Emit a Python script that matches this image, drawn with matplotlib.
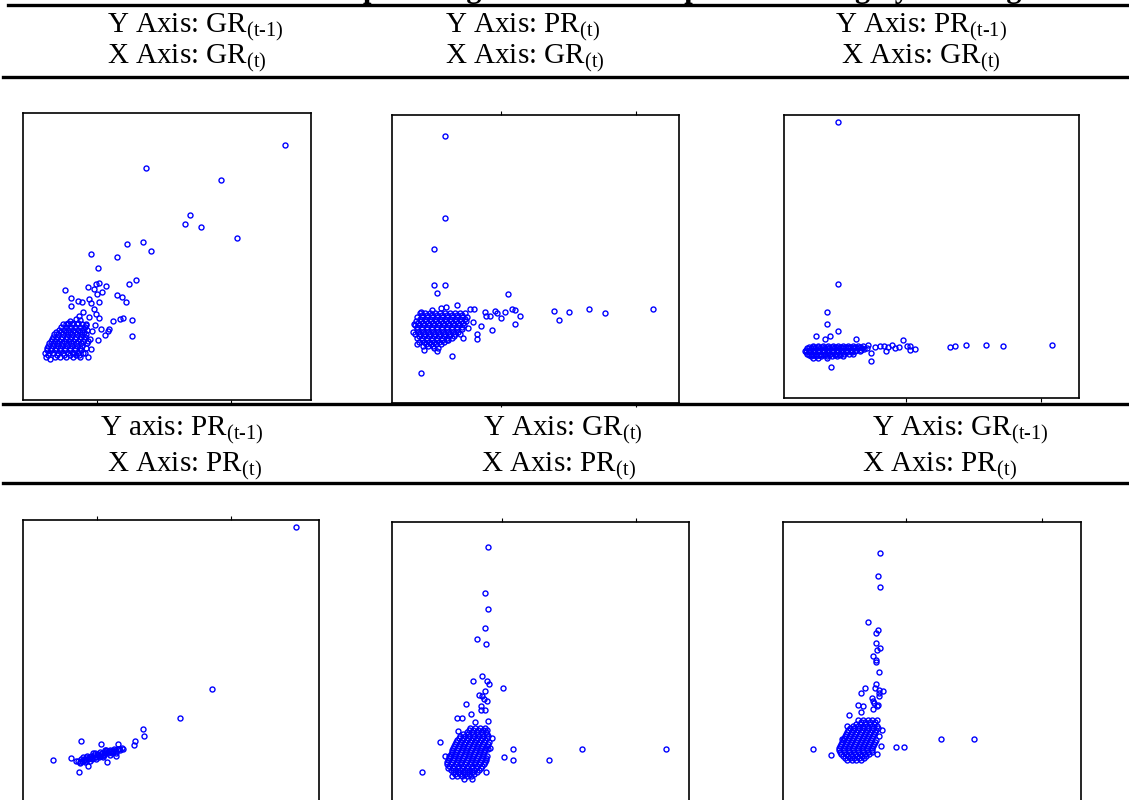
import matplotlib.pyplot as plt
from matplotlib.lines import Line2D

plt.rcParams['font.family'] = ['Liberation Serif', 'DejaVu Serif']
plt.rcParams['mathtext.fontset'] = 'custom'
plt.rcParams['mathtext.rm'] = 'Liberation Serif'
plt.rcParams['mathtext.it'] = 'Liberation Serif:italic'
plt.rcParams['mathtext.bf'] = 'Liberation Serif:bold'

W, H = 1129, 800

title = 'Table 2: Scatter plots of growth rate and profit ranking by ranking'

# header text of each panel: (y label, y subscript, x label, x subscript)
labels_top = [('Y Axis: GR', '(t-1)', 'X Axis: GR', '(t)'),
              ('Y Axis: PR', '(t)', 'X Axis: GR', '(t)'),
              ('Y Axis: PR', '(t-1)', 'X Axis: GR', '(t)')]
labels_bottom = [('Y axis: PR', '(t-1)', 'X Axis: PR', '(t)'),
                 ('Y Axis: GR', '(t)', 'X Axis: PR', '(t)'),
                 ('Y Axis: GR', '(t-1)', 'X Axis: PR', '(t)')]

# ---- panel 1: GR(t) vs GR(t-1)
p1 = [(85.5, 86.3), (44.0, 79.4), (66.3, 76.0), (57.2, 65.3), (55.7, 62.6), (60.3, 61.7),
      (71.2, 58.6), (38.1, 56.7), (43.1, 57.2), (45.5, 54.7), (27.5, 53.7), (35.2, 53.0),
      (29.4, 49.7), (40.9, 46.0), (38.7, 44.9), (28.8, 44.9), (29.9, 45.0), (31.8, 44.2),
      (26.5, 43.9), (28.2, 43.4), (30.7, 42.5), (29.2, 41.7), (19.6, 43.1), (21.5, 40.5),
      (23.4, 39.6), (24.7, 39.3), (26.9, 40.2), (27.5, 39.1), (29.8, 39.3), (35.2, 41.6),
      (36.8, 40.9), (37.8, 39.5), (21.5, 38.3), (28.3, 37.3), (25.0, 36.4), (28.9, 35.7),
      (29.8, 34.5), (26.7, 34.9), (34.0, 33.8), (36.2, 34.2), (37.1, 34.6), (39.6, 33.9),
      (39.8, 29.3), (32.7, 31.3), (32.5, 30.7), (31.5, 29.4), (29.4, 28.0), (27.3, 25.3),
      (26.4, 23.0), (23.9, 23.5), (25.0, 24.0), (30.4, 31.3), (27.8, 30.6), (28.6, 32.4),
      (26.0, 32.4), (20.0, 32.7), (21.2, 33.7), (22.8, 34.2), (24.2, 34.0), (23.8, 35.2)]
p1_cluster = {22.8: [14.0, 16.5, 18.0, 20.0, 22.0, 24.0],
              22.2: [15.0],
              23.5: [14.6, 17.2, 19.3, 21.0, 23.0],
              24.2: [13.5, 14.8, 16.0, 17.5, 19.0, 20.5, 22.0, 23.5, 25.5],
              24.9: [14.1, 15.4, 16.7, 18.2, 19.7, 21.2, 22.7, 24.5],
              25.6: [14.2, 15.5, 16.8, 18.2, 19.6, 21.0, 22.5, 24.0, 25.8],
              26.3: [14.6, 15.9, 17.4, 18.8, 20.3, 21.7, 23.2, 24.8],
              27.0: [14.8, 16.0, 17.2, 18.6, 20.0, 21.4, 22.8, 24.4, 26.2],
              27.7: [15.4, 16.6, 17.9, 19.3, 20.7, 22.1, 23.5, 25.0, 26.5],
              28.4: [15.8, 17.0, 18.4, 19.8, 21.2, 22.6, 24.0, 25.4, 27.0],
              29.0: [16.0, 17.3, 18.7, 20.1, 21.5, 22.9, 24.3, 25.7],
              29.7: [16.2, 17.6, 19.0, 20.4, 21.8, 23.2, 24.6, 26.0],
              30.4: [17.0, 18.4, 19.8, 21.2, 22.6, 24.0, 25.4],
              31.1: [17.8, 19.2, 20.6, 22.0, 23.4, 24.8, 26.2],
              31.9: [18.5, 19.9, 21.3, 22.7, 24.1, 25.5],
              32.7: [19.0, 20.4, 21.8, 23.2, 24.6, 25.8],
              33.2: [20.5, 22.0, 23.6]}

# ---- panel 2: GR(t) vs PR(t)
p2 = [(19.5, 89.0), (19.5, 64.5), (16.2, 55.2), (16.2, 44.5), (19.4, 44.6), (17.1, 42.0),
      (38.4, 41.8), (82.1, 37.3), (62.8, 37.3), (67.7, 36.2), (56.8, 36.4), (52.2, 36.7),
      (53.7, 34.0), (39.6, 37.4), (40.5, 37.0), (42.0, 35.3), (40.5, 32.9), (37.4, 36.3),
      (36.3, 34.6), (34.5, 36.7), (35.2, 36.0), (33.0, 35.2), (31.6, 36.5), (31.7, 35.2),
      (33.5, 30.9), (30.4, 32.3), (29.2, 29.8), (29.0, 28.3), (28.0, 33.5), (26.5, 31.6),
      (24.9, 28.6), (21.6, 23.3), (12.3, 18.1), (28.3, 37.3), (27.0, 37.2), (23.1, 38.5),
      (19.8, 37.8), (18.3, 37.5), (15.5, 37.0), (12.4, 36.5), (11.0, 26.9), (13.3, 25.1),
      (17.2, 24.8), (17.5, 25.7), (16.2, 25.7), (20.5, 28.0), (10.2, 32.7), (10.0, 30.4)]
p2_cluster = {36.0: [12.0, 13.5, 15.0, 16.5, 18.0, 19.5, 21.0, 22.5, 24.0, 25.5],
              35.4: [12.7, 14.2, 15.7, 17.2, 18.7, 20.2, 21.7, 23.2, 24.7],
              34.8: [11.2, 12.7, 14.2, 15.7, 17.2, 18.7, 20.2, 21.7, 23.2, 24.7, 26.2],
              34.2: [11.9, 13.4, 14.9, 16.4, 17.9, 19.4, 20.9, 22.4, 23.9, 25.4],
              33.6: [10.8, 12.2, 13.7, 15.2, 16.7, 18.2, 19.7, 21.2, 22.7, 24.2, 25.7],
              33.0: [11.5, 13.0, 14.5, 16.0, 17.5, 19.0, 20.5, 22.0, 23.5, 25.0],
              32.4: [10.4, 11.8, 13.3, 14.8, 16.3, 17.8, 19.3, 20.8, 22.3, 23.8, 25.3],
              31.8: [11.1, 12.6, 14.1, 15.6, 17.1, 18.6, 20.1, 21.6, 23.1, 24.6],
              31.2: [11.0, 12.5, 14.0, 15.5, 17.0, 18.5, 20.0, 21.5, 23.0, 24.5],
              30.6: [11.3, 12.8, 14.3, 15.8, 17.3, 18.8, 20.3, 21.8, 23.3],
              30.0: [10.6, 12.0, 13.5, 15.0, 16.5, 18.0, 19.5, 21.0, 22.5, 24.0],
              29.4: [11.6, 13.1, 14.6, 16.1, 17.6, 19.1, 20.6, 22.1],
              28.8: [11.2, 12.7, 14.2, 15.7, 17.2, 18.7, 20.2, 21.7],
              28.2: [12.5, 14.0, 15.5, 17.0, 18.5, 20.0],
              27.6: [11.8, 13.3, 14.8, 16.3, 17.8, 19.3],
              27.0: [13.7, 15.2, 16.7, 18.2],
              26.4: [13.0, 14.5, 16.0]}

# ---- panel 3: GR(t) vs PR(t-1)
p3 = [(23.4, 93.3), (23.4, 44.8), (20.0, 36.2), (20.0, 32.8), (23.3, 30.6), (16.8, 29.1),
      (20.9, 29.0), (19.4, 28.2), (28.8, 28.1), (42.9, 27.9), (87.7, 26.5), (67.9, 26.5),
      (73.0, 26.0), (61.8, 26.5), (58.6, 26.1), (57.0, 25.9), (46.5, 25.3), (45.0, 26.2),
      (44.0, 26.2), (45.0, 25.0), (41.8, 25.9), (40.5, 25.4), (39.5, 26.4), (37.7, 24.6),
      (37.1, 26.2), (36.0, 26.0), (34.6, 25.7), (38.5, 25.8), (33.3, 23.9), (33.3, 21.6),
      (21.2, 19.8), (32.5, 26.5), (31.3, 25.2)]
p3_cluster = {26.2: [16.0, 17.5, 19.0, 20.5, 22.0, 23.5, 25.0, 26.5, 28.0, 29.5, 31.0],
              25.8: [14.6, 15.9, 17.3, 18.7, 20.1, 21.5, 22.9, 24.3, 25.7, 27.1, 28.5, 29.9],
              25.4: [14.0, 15.2, 16.6, 18.0, 19.4, 20.8, 22.2, 23.6, 25.0, 26.4, 27.8, 29.2, 30.6, 32.0],
              25.0: [13.7, 14.9, 16.3, 17.7, 19.1, 20.5, 21.9, 23.3, 24.7, 26.1, 27.5, 28.9, 30.3],
              24.6: [13.4, 14.6, 16.0, 17.4, 18.8, 20.2, 21.6, 23.0, 24.4, 25.8, 27.2, 28.6, 30.0],
              24.2: [13.7, 15.0, 16.4, 17.8, 19.2, 20.6, 22.0, 23.4, 24.8, 26.2, 27.6],
              23.8: [14.0, 15.4, 16.8, 18.2, 19.6, 21.0, 22.4, 23.8, 25.2, 26.6, 28.0],
              23.4: [14.6, 16.0, 17.6, 19.2, 20.8, 22.4, 24.0],
              23.0: [15.2, 16.8, 18.4, 20.0, 21.6, 23.2, 24.8],
              22.4: [16.0, 17.5, 20.0]}

# ---- panel 4: PR(t) vs PR(t-1)
p4 = [(88.8, 92.0), (63.7, 43.4), (54.1, 34.7), (43.1, 31.4), (43.2, 29.2), (40.5, 27.8),
      (40.3, 26.5), (24.4, 27.7), (30.3, 26.8), (35.5, 26.8), (16.0, 21.9), (21.3, 22.7),
      (23.8, 18.4), (26.5, 20.2), (32.1, 21.3), (35.0, 23.2), (37.0, 25.4),
      (23.0, 21.8), (24.0, 21.4), (24.5, 22.4), (25.2, 22.0), (25.8, 22.8), (26.4, 22.2),
      (27.0, 23.0), (27.6, 22.5), (28.2, 23.4), (28.8, 22.8), (29.4, 23.8), (30.0, 23.2),
      (30.6, 24.2), (31.2, 23.6), (31.8, 24.6), (32.4, 24.0), (33.0, 25.0), (33.6, 24.4),
      (34.2, 25.2), (34.8, 24.7), (35.4, 25.4), (36.0, 25.0), (36.6, 25.5), (24.0, 21.0),
      (25.6, 21.4), (27.2, 21.8), (29.0, 22.2), (31.0, 22.8), (33.0, 23.4), (35.0, 24.0),
      (30.0, 24.5), (32.0, 25.0), (28.0, 24.0), (26.2, 23.2),
      (23.5, 21.6), (24.8, 21.8), (25.5, 22.3), (26.8, 22.6), (27.4, 23.2), (28.5, 23.0),
      (29.1, 23.5), (29.7, 23.0), (30.3, 23.8), (31.5, 24.0), (32.1, 24.3), (32.7, 24.7),
      (33.3, 24.6), (34.0, 24.8), (34.5, 25.0), (35.7, 25.2), (26.0, 21.8), (27.8, 22.3),
      (30.8, 23.3), (33.8, 24.1), (25.0, 22.9), (28.5, 24.2), (31.5, 24.9)]
p4_cluster = {}

# ---- panel 5: PR(t) vs GR(t)
p5 = [(32.5, 86.1), (31.4, 72.2), (32.5, 67.4), (31.6, 61.6), (29.1, 58.5), (31.9, 57.0),
      (30.5, 47.1), (28.0, 45.6), (32.1, 45.7), (32.6, 44.8), (37.0, 43.7), (31.4, 42.7),
      (29.7, 41.5), (30.5, 41.3), (31.1, 40.4), (32.0, 39.7), (25.8, 38.8), (30.2, 38.3),
      (30.4, 37.1), (31.6, 37.1), (27.3, 35.9), (23.1, 34.5), (24.7, 34.6), (28.6, 33.5),
      (32.4, 33.8), (33.6, 28.7), (17.9, 27.4), (33.1, 25.5), (39.9, 25.2), (60.6, 25.2),
      (85.9, 25.2), (37.3, 22.9), (39.8, 22.1), (50.9, 22.1), (12.6, 18.3), (19.5, 23.1),
      (20.7, 23.1), (21.7, 17.1), (27.6, 16.3), (25.2, 16.2), (31.8, 18.4), (23.5, 30.6),
      (32.5, 25.3)]
p5_cluster = {31.6: [27.0, 28.5, 30.0, 31.5],
              31.0: [26.6, 28.0, 29.4, 30.8, 32.2],
              30.4: [26.2, 27.6, 29.0, 30.4, 31.8],
              29.8: [25.0, 26.5, 27.9, 29.3, 30.7, 32.1],
              29.2: [24.0, 25.4, 26.8, 28.2, 29.6, 31.0, 32.4],
              28.6: [23.6, 25.0, 26.4, 27.8, 29.2, 30.6, 32.0],
              28.0: [23.2, 24.6, 26.0, 27.4, 28.8, 30.2, 31.6],
              27.4: [22.8, 24.2, 25.6, 27.0, 28.4, 29.8, 31.2, 32.6],
              26.8: [22.5, 23.9, 25.3, 26.7, 28.1, 29.5, 30.9, 32.3],
              26.2: [22.2, 23.6, 25.0, 26.4, 27.8, 29.2, 30.6, 32.0],
              25.6: [22.0, 23.4, 24.8, 26.2, 27.6, 29.0, 30.4, 31.8],
              25.0: [21.7, 23.1, 24.5, 25.9, 27.3, 28.7, 30.1, 31.5],
              24.4: [21.5, 22.9, 24.3, 25.7, 27.1, 28.5, 29.9, 31.3],
              23.8: [21.2, 22.6, 24.0, 25.4, 26.8, 28.2, 29.6, 31.0],
              23.2: [21.0, 22.4, 23.8, 25.2, 26.6, 28.0, 29.4, 30.8, 32.2],
              22.6: [20.7, 22.1, 23.5, 24.9, 26.3, 27.7, 29.1, 30.5, 31.9],
              22.0: [20.5, 21.9, 23.3, 24.7, 26.1, 27.5, 28.9, 30.3, 31.7],
              21.4: [20.2, 21.6, 23.0, 24.4, 25.8, 27.2, 28.6, 30.0, 31.4],
              20.8: [20.0, 21.4, 22.8, 24.2, 25.6, 27.0, 28.4, 29.8, 31.2],
              20.2: [20.7, 22.1, 23.5, 24.9, 26.3, 27.7, 29.1, 30.5],
              19.6: [20.5, 21.9, 23.3, 24.7, 26.1, 27.5, 28.9, 30.3],
              19.0: [21.2, 22.6, 24.0, 25.4, 26.8, 28.2, 29.6],
              18.4: [22.0, 23.4, 24.8, 26.2, 27.6, 29.0],
              17.8: [22.6, 24.0, 25.4, 26.8, 28.2],
              17.2: [23.2, 24.6, 26.0, 27.4]}

# ---- panel 6: PR(t) vs GR(t-1)
p6 = [(36.0, 84.0), (35.6, 77.3), (36.0, 74.0), (32.6, 63.5), (35.4, 60.9), (35.0, 60.0),
      (34.9, 57.0), (36.1, 55.7), (35.3, 55.1), (34.0, 53.3), (35.0, 52.0), (35.0, 51.4),
      (35.7, 48.3), (34.9, 44.9), (34.6, 43.7), (31.7, 43.6), (35.9, 43.0), (37.1, 42.7),
      (30.5, 42.0), (35.7, 42.1), (35.9, 41.3), (33.8, 40.5), (34.0, 39.6), (34.3, 39.1),
      (29.4, 38.5), (30.9, 38.1), (35.5, 38.5), (35.1, 38.2), (34.0, 37.2), (30.5, 36.3),
      (26.7, 35.4), (36.6, 31.0), (35.8, 29.3), (54.4, 28.3), (64.1, 28.3), (40.8, 25.9),
      (43.3, 25.9), (36.3, 26.2), (16.1, 25.2), (21.4, 23.4), (35.2, 23.9), (24.6, 28.3),
      (26.1, 32.3)]
p6_cluster = {34.0: [29.6, 31.0, 32.4, 33.8, 35.2],
              33.4: [30.3, 31.7, 33.1, 34.5],
              32.8: [28.8, 30.2, 31.6, 33.0, 34.4],
              32.2: [28.1, 29.5, 30.9, 32.3, 33.7, 35.1],
              31.6: [27.0, 28.4, 29.8, 31.2, 32.6, 34.0, 35.4],
              31.0: [26.6, 28.0, 29.4, 30.8, 32.2, 33.6, 35.0],
              30.4: [26.2, 27.6, 29.0, 30.4, 31.8, 33.2, 34.6],
              29.8: [25.9, 27.3, 28.7, 30.1, 31.5, 32.9, 34.3],
              29.2: [25.6, 27.0, 28.4, 29.8, 31.2, 32.6, 34.0],
              28.6: [25.3, 26.7, 28.1, 29.5, 30.9, 32.3, 33.7],
              28.0: [25.0, 26.4, 27.8, 29.2, 30.6, 32.0, 33.4, 34.8],
              27.4: [24.7, 26.1, 27.5, 28.9, 30.3, 31.7, 33.1, 34.5],
              26.8: [24.4, 25.8, 27.2, 28.6, 30.0, 31.4, 32.8, 34.2],
              26.2: [24.1, 25.5, 26.9, 28.3, 29.7, 31.1, 32.5, 33.9],
              25.6: [23.8, 25.2, 26.6, 28.0, 29.4, 30.8, 32.2, 33.6],
              25.0: [23.9, 25.3, 26.7, 28.1, 29.5, 30.9, 32.3, 33.7],
              24.4: [24.0, 25.4, 26.8, 28.2, 29.6, 31.0, 32.4, 33.8],
              23.8: [24.5, 25.9, 27.3, 28.7, 30.1, 31.5, 32.9],
              23.2: [25.0, 26.4, 27.8, 29.2, 30.6, 32.0],
              22.6: [25.6, 27.0, 28.4, 29.8, 31.2],
              22.0: [26.2, 27.6, 29.0, 30.4]}

# axis ranges and tick positions of each panel (no tick labels in the original)
lims = [((7.0, 93.4), (10.0, 96.0)), ((3.6, 89.8), (9.2, 95.4)), ((7.2, 95.8), (10.5, 95.4)),
        ((7.0, 95.8), (7.9, 94.0)), ((3.6, 92.8), (7.9, 93.5)), ((7.0, 96.3), (7.9, 93.4))]
xticks = [[29.2, 69.3], [36.3, 76.8], [43.8, 84.3], [29.2, 69.4], [36.5, 77.0], [44.0, 84.5]]
tick_sides = [(False, True), (True, True), (False, True), (True, False), (True, False), (True, False)]

# panel boxes in pixels: left, top, right, bottom
boxes = [(23, 113, 311, 400), (392, 115, 679, 403), (784, 115, 1079, 398),
         (23, 520, 319, 807), (392, 522, 689, 807), (783, 522, 1081, 807)]

fig = plt.figure(figsize=(W / 100, H / 100), dpi=100)


def fx(x):
    return x / W


def fy(y):
    return 1 - y / H


panels = [(p1, p1_cluster), (p2, p2_cluster), (p3, p3_cluster),
          (p4, p4_cluster), (p5, p5_cluster), (p6, p6_cluster)]

for i, (pts, cluster) in enumerate(panels):
    l, t, r, b = boxes[i]
    ax = fig.add_axes([fx(l), fy(b), (r - l) / W, (b - t) / H])
    xs = [p[0] for p in pts]
    ys = [p[1] for p in pts]
    for yv, xrow in cluster.items():
        xs += xrow
        ys += [yv] * len(xrow)
    ax.plot(xs, ys, 'o', ms=3.6, mfc='none', mec='#0000ff', mew=1.0)
    ax.set_xlim(*lims[i][0])
    ax.set_ylim(*lims[i][1])
    ax.set_xticks(xticks[i])
    ax.set_xticklabels([])
    ax.set_yticks([])
    top, bottom = tick_sides[i]
    ax.tick_params(axis='x', direction='out', length=3, width=0.8, top=top, bottom=bottom)
    for s in ax.spines.values():
        s.set_linewidth(1.2)
        s.set_color('black')

# horizontal rules of the table
for y, x0 in [(5, 8), (77, 3), (404, 3), (483, 3)]:
    fig.add_artist(Line2D([fx(x0), 1], [fy(y), fy(y)], transform=fig.transFigure,
                          color='black', lw=2.4))

# title, mostly cut off by the top of the page (as in the original)
fig.text(fx(150), fy(-3), title, fontsize=22, fontweight='bold', ha='left', va='baseline')


def label(txt, sub):
    return txt + r'$_{\text{' + sub + '}}$'


pos_top = [(107, 107), (445, 445), (835, 841)]
pos_bot = [(100, 107), (483, 481), (872, 862)]
for labs, pos, y1, y2 in [(labels_top, pos_top, 32, 63),
                          (labels_bottom, pos_bot, 435, 471)]:
    for (yl, ys_, xl, xs_), (x1, x2) in zip(labs, pos):
        fig.text(fx(x1), fy(y1), label(yl, ys_), fontsize=21, ha='left', va='baseline')
        fig.text(fx(x2), fy(y2), label(xl, xs_), fontsize=21, ha='left', va='baseline')

fig.savefig('out.png', dpi=100)
